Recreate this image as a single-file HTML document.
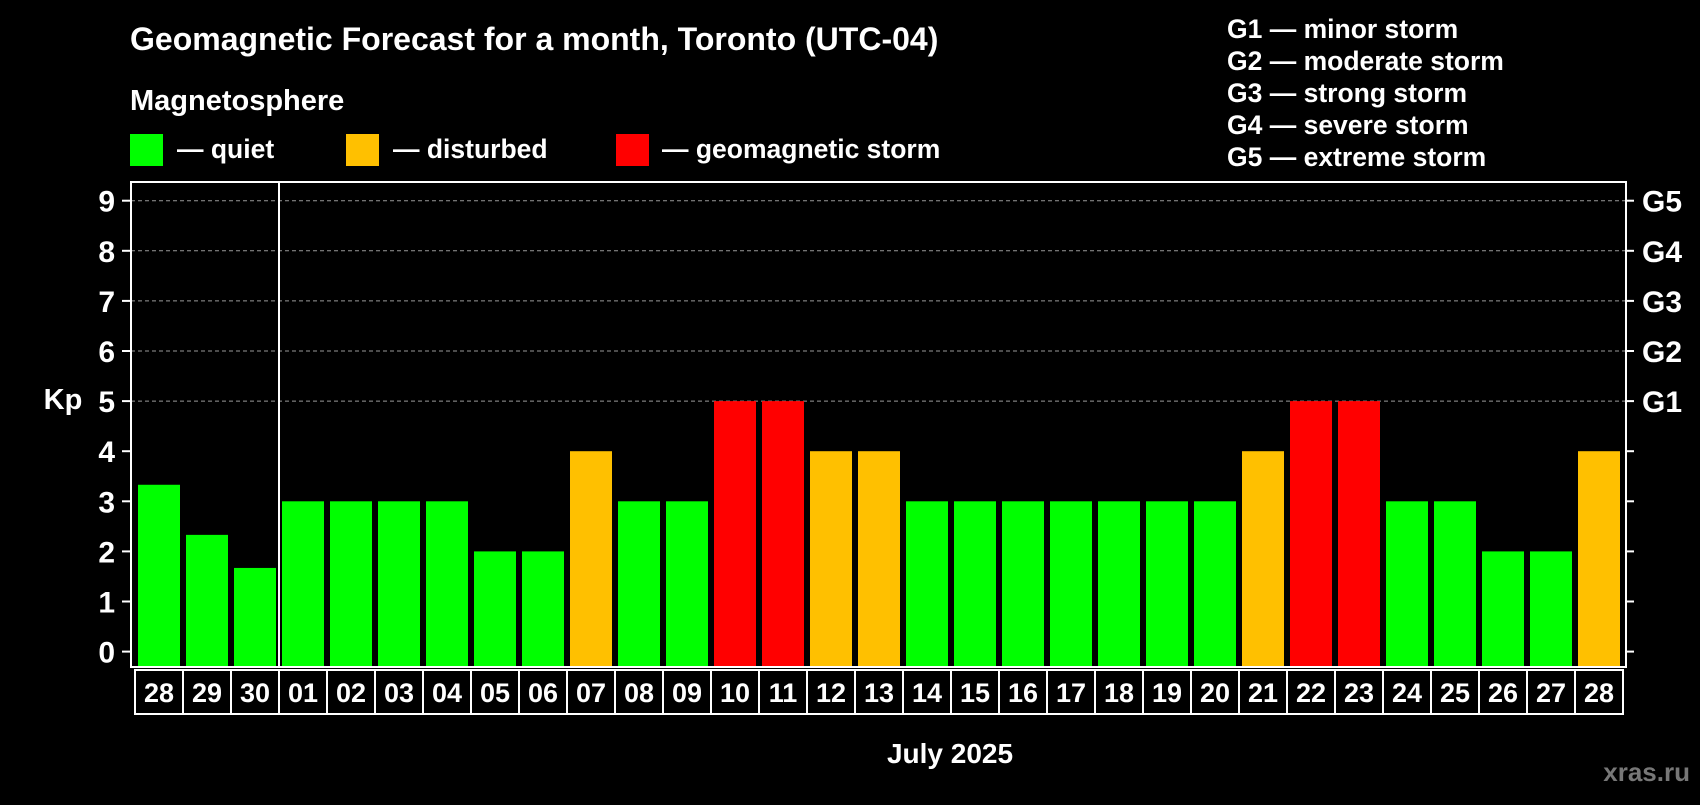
<!DOCTYPE html>
<html><head><meta charset="utf-8"><style>
body{margin:0;background:#000;width:1700px;height:800px;overflow:hidden;font-family:"Liberation Sans",Arial,sans-serif;font-weight:bold;color:#fff}
</style></head><body>
<svg id="chart" width="1700" height="800" xmlns="http://www.w3.org/2000/svg" font-family="Liberation Sans, Arial, sans-serif" font-weight="bold" fill="#fff">
<text x="130" y="50" font-size="32">Geomagnetic Forecast for a month, Toronto (UTC-04)</text>
<text x="130" y="110" font-size="29">Magnetosphere</text>
<g><rect x="130" y="134" width="33" height="32" fill="#00ff00"/><text x="177" y="158" font-size="26.5">— quiet</text></g>
<g><rect x="346" y="134" width="33" height="32" fill="#ffc000"/><text x="393" y="158" font-size="26.5">— disturbed</text></g>
<g><rect x="616" y="134" width="33" height="32" fill="#ff0000"/><text x="662" y="158" font-size="26.5">— geomagnetic storm</text></g>
<g font-size="26.5">
<text x="1227" y="38">G1 — minor storm</text>
<text x="1227" y="70">G2 — moderate storm</text>
<text x="1227" y="102">G3 — strong storm</text>
<text x="1227" y="134">G4 — severe storm</text>
<text x="1227" y="166">G5 — extreme storm</text>
</g>
<text x="63" y="409" font-size="29" text-anchor="middle">Kp</text>
<text x="950" y="763" font-size="28" text-anchor="middle">July 2025</text>
<text x="1690" y="781" font-size="26" text-anchor="end" fill="#777">xras.ru</text>
<g id="grid"></g><g id="bars"></g><g id="axes"></g>
</svg>
<script>
const days=["28","29","30","01","02","03","04","05","06","07","08","09","10","11","12","13","14","15","16","17","18","19","20","21","22","23","24","25","26","27","28"];
const kpValues=[3.33,2.33,1.67,3,3,3,3,2,2,4,3,3,5,5,4,4,3,3,3,3,3,3,3,4,5,5,3,3,2,2,4];
const yTicks=[0,1,2,3,4,5,6,7,8,9];
const gLabels=["G1","G2","G3","G4","G5"];
const NS="http://www.w3.org/2000/svg";
const L=131,R=1626,T=182,B=667;
const y=v=>651.6-v*50.1;
const x=i=>138+i*48;
function mk(tag,attrs,parent){const e=document.createElementNS(NS,tag);for(const k in attrs)e.setAttribute(k,attrs[k]);parent.appendChild(e);return e;}
const grid=document.getElementById('grid'),bars=document.getElementById('bars'),axes=document.getElementById('axes');
yTicks.forEach(v=>{
  if(v>=5){const g=mk('line',{x1:L,x2:R,y1:y(v),y2:y(v),stroke:'#999','stroke-width':1,'stroke-dasharray':'4,3'},grid);
  
  }
  const t=mk('line',{x1:L-9,x2:L,y1:y(v),y2:y(v),stroke:'#fff','stroke-width':2},axes);
  
  
  const t2=mk('line',{x1:R,x2:R+8,y1:y(v),y2:y(v),stroke:'#fff','stroke-width':2},axes);
  
  
  const lb=mk('text',{x:115,y:y(v)+11,'font-size':30,'text-anchor':'end'},axes);lb.textContent=v;
  
  
});
gLabels.forEach((g,i)=>{const lb=mk('text',{x:1642,y:y(5+i)+11,'font-size':30},axes);lb.textContent=g;
  
  });
kpValues.forEach((v,i)=>{
  const c=v>=5?'#ff0000':(v>=4?'#ffc000':'#00ff00');
  const r=mk('rect',{x:x(i),y:y(v),width:42,height:B-y(v),fill:c},bars);
  
  
  const bx=mk('rect',{x:135+i*48,y:670,width:48,height:44,fill:'none',stroke:'#fff','stroke-width':2},axes);
  
  
  const t=mk('text',{x:159+i*48,y:702,'font-size':27,'text-anchor':'middle'},axes);t.textContent=days[i];
  
  
});
const f=mk('rect',{x:L,y:T,width:R-L,height:B-T,fill:'none',stroke:'#fff','stroke-width':2},axes);


const sep=mk('line',{x1:x(3)-3,x2:x(3)-3,y1:T,y2:B,stroke:'#fff','stroke-width':2},axes);


</script>
</body></html>
